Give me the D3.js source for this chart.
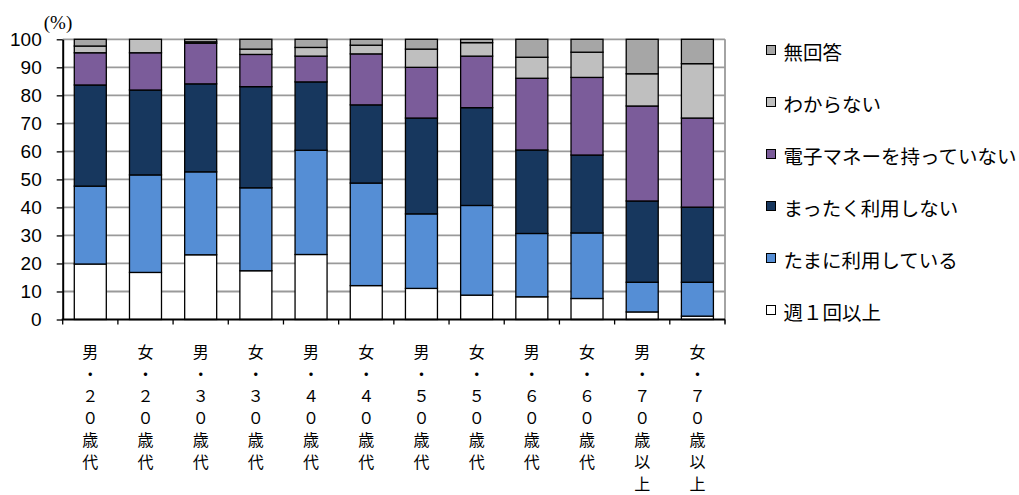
<!DOCTYPE html>
<html lang="ja">
<head>
<meta charset="utf-8">
<script src="https://cdn.jsdelivr.net/npm/d3@7"></script>
<style>
  html, body { margin: 0; padding: 0; background: #fff; }
  svg { display: block; }
</style>
</head>
<body>
<svg id="chart" width="1019" height="495"></svg>
<script>
// Groups (sex × age band), written for vertical display one character per line
const categories = [
  "男・２０歳代", "女・２０歳代", "男・３０歳代", "女・３０歳代",
  "男・４０歳代", "女・４０歳代", "男・５０歳代", "女・５０歳代",
  "男・６０歳代", "女・６０歳代", "男・７０歳以上", "女・７０歳以上"
];

// Share of respondents (%) per answer, stacked from the bottom up
const weekly    = [19.8, 16.8, 23.1, 17.4, 23.2, 12.1, 11.1,  8.7,  8.1,  7.5,  2.7,  1.2];
const sometimes = [27.8, 34.8, 29.6, 29.6, 37.2, 36.6, 26.6, 32.0, 22.6, 23.4, 10.6, 12.1];
const never     = [36.1, 30.3, 31.4, 36.1, 24.4, 27.9, 34.2, 34.9, 29.8, 27.8, 29.0, 26.8];
const noEmoney  = [11.5, 13.3, 14.5, 11.5,  9.2, 18.2, 18.1, 18.4, 25.6, 27.7, 33.9, 31.8];
const unknown   = [ 2.4,  4.8,  0.5,  1.9,  3.1,  3.1,  6.5,  4.8,  7.5,  9.0, 11.5, 19.4];
const noAnswer  = [ 2.4,  0.0,  0.9,  3.5,  2.9,  2.1,  3.5,  1.2,  6.4,  4.6, 12.3,  8.7];

const seriesNames = ["週１回以上", "たまに利用している", "まったく利用しない",
                     "電子マネーを持っていない", "わからない", "無回答"];
const seriesValues = [weekly, sometimes, never, noEmoney, unknown, noAnswer];
const seriesColors = ["#ffffff", "#558ed5", "#17375e", "#7b5c9a", "#bfbfbf", "#a6a6a6"];

const yTicks = [0, 10, 20, 30, 40, 50, 60, 70, 80, 90, 100];

const svg = d3.select("#chart");

const plot = { left: 62.7, right: 725, top: 39.3, bottom: 319.5 };

const x = d3.scaleBand()
  .domain(categories)
  .range([plot.left, plot.right])
  .paddingInner(0.42)
  .paddingOuter(0.21);

const y = d3.scaleLinear().domain([0, 100]).range([plot.bottom, plot.top]);

// Table for the stack layout
const table = categories.map((c, i) => {
  const row = { cat: c };
  seriesNames.forEach((s, k) => { row[s] = seriesValues[k][i]; });
  return row;
});
const stacked = d3.stack().keys(seriesNames)(table);

// Horizontal gridlines
svg.append("g")
  .selectAll("line")
  .data(yTicks.filter(t => t > 0))
  .join("line")
  .attr("x1", plot.left).attr("x2", plot.right)
  .attr("y1", d => y(d)).attr("y2", d => y(d))
  .attr("stroke", "#9a9a9a")
  .attr("stroke-width", 1.8);

// Right border of the plot area
svg.append("line")
  .attr("x1", plot.right).attr("x2", plot.right)
  .attr("y1", plot.top).attr("y2", plot.bottom + 4)
  .attr("stroke", "#9a9a9a")
  .attr("stroke-width", 1.8);

// Stacked bars
svg.append("g")
  .selectAll("g")
  .data(stacked)
  .join("g")
  .attr("fill", (d, k) => seriesColors[k])
  .selectAll("rect")
  .data(d => d.map(p => ({ p, cat: p.data.cat })))
  .join("rect")
  .attr("x", d => x(d.cat))
  .attr("width", x.bandwidth())
  .attr("y", d => y(d.p[1]))
  .attr("height", d => Math.max(0, y(d.p[0]) - y(d.p[1])))
  .attr("stroke", "#000")
  .attr("stroke-width", 1.3);

// Y axis
const yAxis = svg.append("g")
  .attr("transform", `translate(${plot.left},0)`)
  .call(d3.axisLeft(y).tickValues(yTicks).tickSize(6).tickPadding(15).tickSizeOuter(0));
yAxis.select(".domain").attr("stroke", "#000").attr("stroke-width", 2);
yAxis.selectAll(".tick line").attr("stroke", "#000").attr("stroke-width", 1.3);
yAxis.selectAll(".tick text")
  .attr("font-family", "'Liberation Sans', Arial, sans-serif")
  .attr("font-size", 19)
  .attr("fill", "#000");

// X axis: boundaries between groups get the tick marks
const step = x.step();
const boundaries = d3.range(categories.length + 1).map(i => plot.left + i * step);
svg.append("line")
  .attr("x1", plot.left - 1).attr("x2", plot.right)
  .attr("y1", plot.bottom).attr("y2", plot.bottom)
  .attr("stroke", "#000").attr("stroke-width", 2);
svg.append("g")
  .selectAll("line")
  .data(boundaries)
  .join("line")
  .attr("x1", d => d).attr("x2", d => d)
  .attr("y1", plot.bottom).attr("y2", plot.bottom + 5)
  .attr("stroke", "#000").attr("stroke-width", 1.3);

// Category labels, stacked vertically one character per line
const labelG = svg.append("g")
  .attr("font-family", "'Noto Sans CJK JP', sans-serif")
  .attr("font-size", 16)
  .attr("fill", "#000")
  .attr("text-anchor", "middle");
categories.forEach(c => {
  const cx = x(c) + x.bandwidth() / 2;
  Array.from(c).forEach((ch, j) => {
    labelG.append("text")
      .attr("x", cx)
      .attr("y", 351 + j * 22)
      .attr("dominant-baseline", "central")
      .text(ch);
  });
});

// Unit label
svg.append("text")
  .attr("x", 58).attr("y", 22)
  .attr("text-anchor", "middle")
  .attr("dominant-baseline", "central")
  .attr("font-family", "'Liberation Serif', serif")
  .attr("font-size", 19)
  .text("(%)");

// Legend (top entry is the top of the stack)
const legendOrder = d3.range(seriesNames.length).reverse();
const legend = svg.append("g");
legendOrder.forEach((k, i) => {
  const cy = 51 + i * 52;
  legend.append("rect")
    .attr("x", 766.5).attr("y", cy - 5.5)
    .attr("width", 9).attr("height", 9)
    .attr("fill", seriesColors[k])
    .attr("stroke", "#000").attr("stroke-width", 1);
  legend.append("text")
    .attr("x", 783.5).attr("y", cy)
    .attr("dominant-baseline", "central")
    .attr("font-family", "'Noto Sans CJK JP', sans-serif")
    .attr("font-size", 19.5)
    .attr("fill", "#000")
    .text(seriesNames[k]);
});
</script>
</body>
</html>
